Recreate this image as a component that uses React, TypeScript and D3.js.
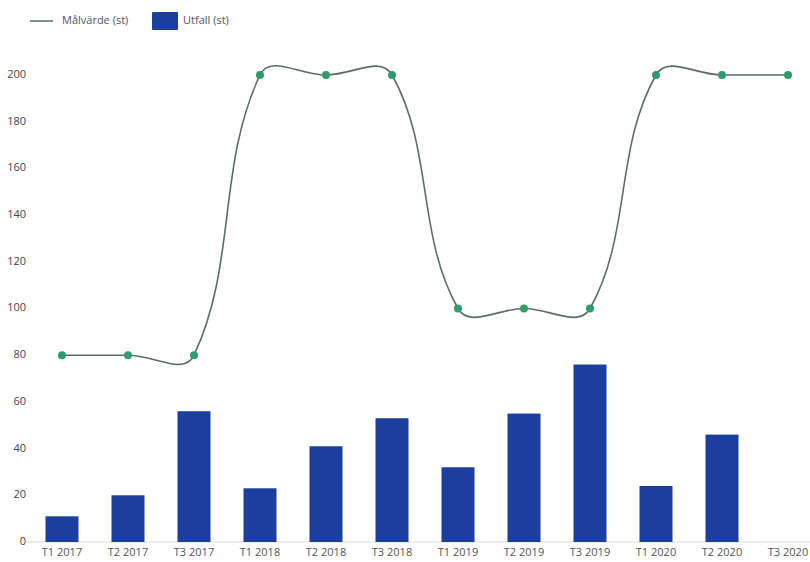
import React from "react";
import * as d3 from "d3";

const categories = [
  "T1 2017", "T2 2017", "T3 2017",
  "T1 2018", "T2 2018", "T3 2018",
  "T1 2019", "T2 2019", "T3 2019",
  "T1 2020", "T2 2020", "T3 2020",
];
const utfall: (number | null)[] = [11, 20, 56, 23, 41, 53, 32, 55, 76, 24, 46, null];
const malvarde = [80, 80, 80, 200, 200, 200, 100, 100, 100, 200, 200, 200];
const yTicks = [0, 20, 40, 60, 80, 100, 120, 140, 160, 180, 200];
const lineLabel = "Målvärde (st)";
const barLabel = "Utfall (st)";

const W = 810;
const H = 562;
const FONT = "'Open Sans', 'Liberation Sans', sans-serif";

export default function App() {
  const x = d3.scaleBand<string>().domain(categories).range([29, 821]).paddingInner(0.5).paddingOuter(0.25);
  const y = d3.scaleLinear().domain([0, 200]).range([542, 75]);

  const pts: [number, number][] = malvarde.map((v, i) => [
    (x(categories[i]) as number) + x.bandwidth() / 2,
    y(v),
  ]);

  // Chart.js-style spline (tension 0.4)
  const t = 0.4;
  const cps = pts.map((cur, i) => {
    const prev = pts[i - 1] || cur;
    const next = pts[i + 1] || cur;
    const d01 = Math.hypot(cur[0] - prev[0], cur[1] - prev[1]);
    const d12 = Math.hypot(next[0] - cur[0], next[1] - cur[1]);
    const sum = d01 + d12 || 1;
    const fa = t * (d01 / sum);
    const fb = t * (d12 / sum);
    return {
      before: [cur[0] - fa * (next[0] - prev[0]), cur[1] - fa * (next[1] - prev[1])],
      after: [cur[0] + fb * (next[0] - prev[0]), cur[1] + fb * (next[1] - prev[1])],
    };
  });
  const p = d3.path();
  pts.forEach((pt, i) => {
    if (i === 0) p.moveTo(pt[0], pt[1]);
    else
      p.bezierCurveTo(
        cps[i - 1].after[0], cps[i - 1].after[1],
        cps[i].before[0], cps[i].before[1],
        pt[0], pt[1]
      );
  });

  return (
    <svg width={W} height={H} style={{ position: "absolute", left: 0, top: 0, background: "#fff" }} fontFamily={FONT}>
      {/* legend */}
      <line x1={30} x2={53} y1={21} y2={21} stroke="#5e6b66" strokeWidth={1.5} />
      <text x={62} y={21} dominantBaseline="middle" fontSize={11} fill="#555">{lineLabel}</text>
      <rect x={152} y={12} width={26} height={18} fill="#1c3f9f" rx={1} />
      <text x={183} y={21} dominantBaseline="middle" fontSize={11} fill="#555">{barLabel}</text>

      {/* y axis labels */}
      {yTicks.map((v) => (
        <text key={v} x={26} y={y(v)} textAnchor="end" dominantBaseline="middle" fontSize={11} fill="#444">
          {v}
        </text>
      ))}

      {/* baseline */}
      <line x1={28} x2={810} y1={y(0)} y2={y(0)} stroke="#dcdcdc" strokeWidth={1} />

      {/* bars */}
      {categories.map((c, i) =>
        utfall[i] == null ? null : (
          <rect
            key={c}
            x={x(c)}
            y={y(utfall[i] as number)}
            width={x.bandwidth()}
            height={y(0) - y(utfall[i] as number)}
            fill="#1c3f9f"
          />
        )
      )}

      {/* x labels */}
      {categories.map((c) => (
        <text key={c} x={(x(c) as number) + x.bandwidth() / 2} y={553} textAnchor="middle" dominantBaseline="middle" fontSize={11} fill="#555">
          {c}
        </text>
      ))}

      {/* line */}
      <path d={p.toString()} fill="none" stroke="#5e6b66" strokeWidth={1.6} />
      {pts.map((pt, i) => (
        <circle key={i} cx={pt[0]} cy={pt[1]} r={4} fill="#2e9c6b" />
      ))}
    </svg>
  );
}
